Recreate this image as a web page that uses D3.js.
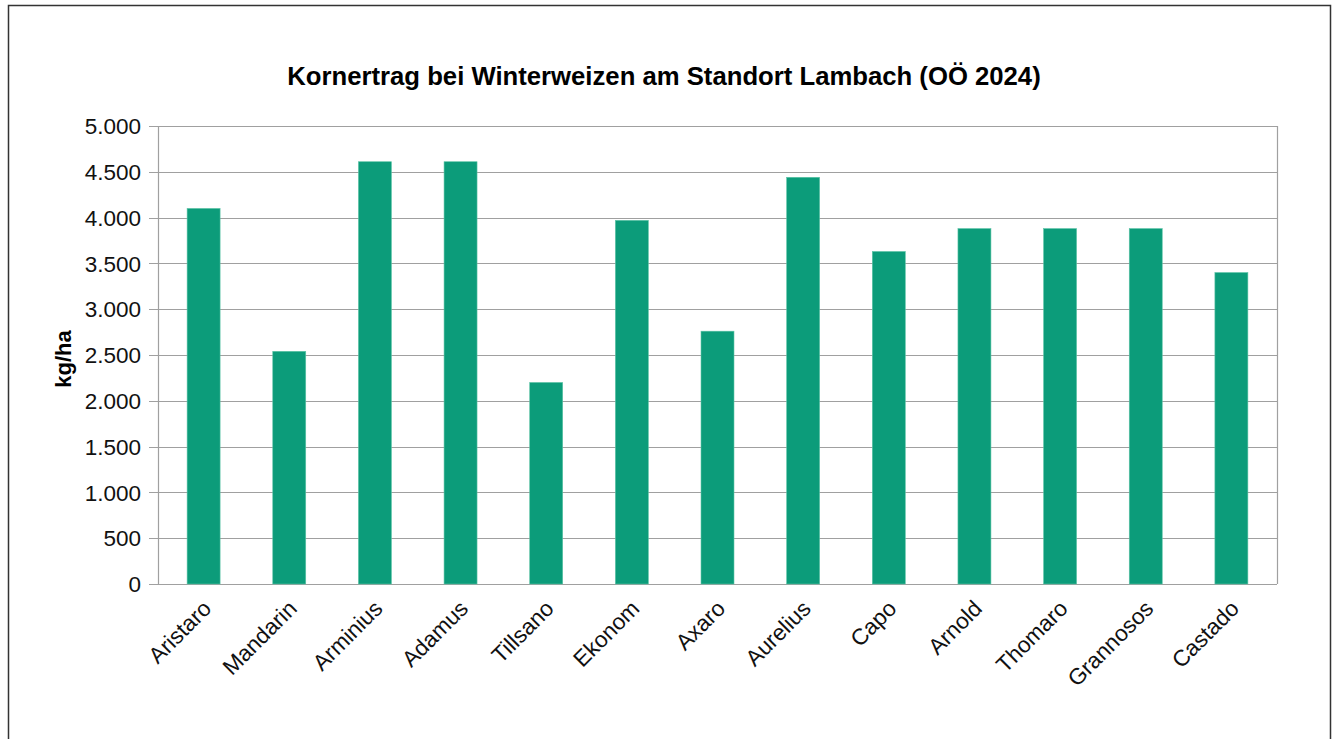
<!DOCTYPE html>
<html>
<head>
<meta charset="utf-8">
<script src="https://cdn.jsdelivr.net/npm/d3@7"></script>
<style>
  body { margin: 0; background: #fff; }
  svg text { font-family: "Liberation Sans", Arial, Helvetica, sans-serif; }
</style>
</head>
<body>
<div id="chart"></div>
<script>
const sorten = ["Aristaro", "Mandarin", "Arminius", "Adamus", "Tillsano", "Ekonom", "Axaro",
  "Aurelius", "Capo", "Arnold", "Thomaro", "Grannosos", "Castado"];
const ertrag = [4100, 2540, 4610, 4610, 2200, 3970, 2760, 4440, 3630, 3880, 3880, 3880, 3400];
const yTicks = [0, 500, 1000, 1500, 2000, 2500, 3000, 3500, 4000, 4500, 5000];

const width = 1336, height = 739;
const margin = { top: 126, right: 59, bottom: 155, left: 158 };

const svg = d3.select("#chart")
  .append("svg")
  .attr("width", width)
  .attr("height", height);

// outer frame
svg.append("rect")
  .attr("x", 8.5).attr("y", 5.5)
  .attr("width", 1322).attr("height", 760)
  .attr("fill", "none")
  .attr("stroke", "#333")
  .attr("stroke-width", 1.5);

const x = d3.scaleBand()
  .domain(sorten)
  .range([margin.left, width - margin.right])
  .paddingInner(0.615)
  .paddingOuter(0.34);

const y = d3.scaleLinear()
  .domain([0, 5000])
  .range([height - margin.bottom, margin.top]);

const fmt = d => d3.format(",")(d).replace(/,/g, ".");

// grid lines
svg.append("g")
  .selectAll("line")
  .data(yTicks)
  .enter()
  .append("line")
  .attr("x1", margin.left - 9)
  .attr("x2", width - margin.right)
  .attr("y1", d => Math.round(y(d)) + 0.5)
  .attr("y2", d => Math.round(y(d)) + 0.5)
  .attr("stroke", "#a0a0a0")
  .attr("stroke-width", 1.2);

// plot frame left / right
svg.append("line")
  .attr("x1", margin.left + 0.5).attr("x2", margin.left + 0.5)
  .attr("y1", margin.top).attr("y2", height - margin.bottom)
  .attr("stroke", "#a0a0a0").attr("stroke-width", 1.2);
svg.append("line")
  .attr("x1", width - margin.right + 0.5).attr("x2", width - margin.right + 0.5)
  .attr("y1", margin.top).attr("y2", height - margin.bottom)
  .attr("stroke", "#a0a0a0").attr("stroke-width", 1.2);

// bars
svg.append("g")
  .selectAll("rect")
  .data(ertrag)
  .enter()
  .append("rect")
  .attr("x", (d, i) => x(sorten[i]))
  .attr("y", d => y(d))
  .attr("width", x.bandwidth())
  .attr("height", d => y(0) - y(d))
  .attr("fill", "#0c9c7a")
  .attr("stroke", "#5cc4a6")
  .attr("stroke-width", 0.6);

// y tick labels
svg.append("g")
  .selectAll("text")
  .data(yTicks)
  .enter()
  .append("text")
  .attr("x", margin.left - 17)
  .attr("y", d => y(d))
  .attr("dy", "0.36em")
  .attr("text-anchor", "end")
  .style("font-size", "22.5px")
  .attr("fill", "#111")
  .text(fmt);

// x labels, rotated
svg.append("g")
  .selectAll("text")
  .data(sorten)
  .enter()
  .append("text")
  .attr("transform", d => `translate(${x(d) + x.bandwidth() / 2 + 9}, ${height - margin.bottom + 26}) rotate(-45)`)
  .attr("text-anchor", "end")
  .style("font-size", "22.5px")
  .attr("fill", "#111")
  .text(d => d);

// y axis title
svg.append("text")
  .attr("transform", `translate(71, ${(margin.top + height - margin.bottom) / 2 + 4}) rotate(-90)`)
  .attr("text-anchor", "middle")
  .style("font-size", "22px")
  .style("font-weight", "bold")
  .text("kg/ha");

// title
svg.append("text")
  .attr("x", 664)
  .attr("y", 85)
  .attr("text-anchor", "middle")
  .style("font-size", "25.7px")
  .style("font-weight", "bold")
  .text("Kornertrag bei Winterweizen am Standort Lambach (OÖ 2024)");
</script>
</body>
</html>
